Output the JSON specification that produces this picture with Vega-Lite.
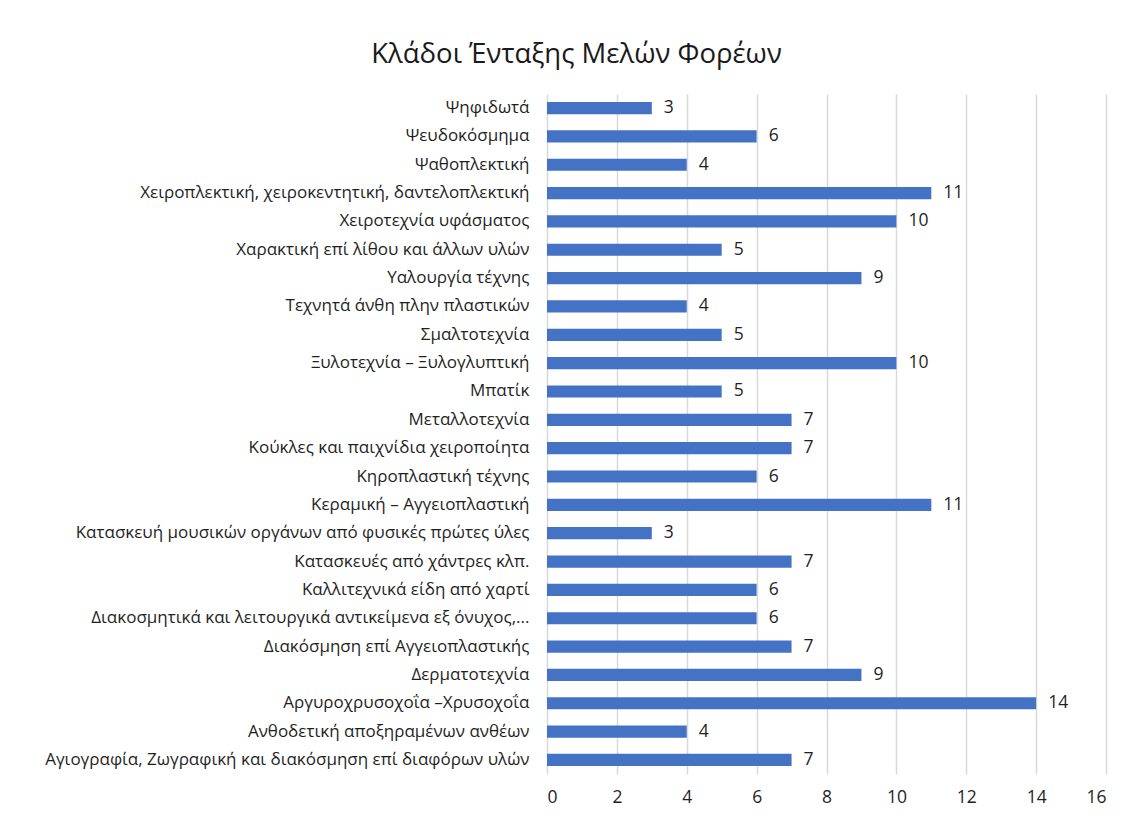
{
  "$schema": "https://vega.github.io/schema/vega-lite/v6.json",
  "autosize": {"type": "none"},
  "width": 559,
  "height": 680,
  "padding": {"left": 547, "top": 94, "right": 22, "bottom": 42},
  "background": "white",
  "title": {
    "text": "Κλάδοι Ένταξης Μελών Φορέων",
    "font": "Open Sans",
    "fontSize": 27.5,
    "fontWeight": "normal",
    "color": "#1a1a1a",
    "anchor": "middle",
    "dx": -250,
    "offset": 26
  },
  "data": {
    "values": [
      {"klados": "Ψηφιδωτά", "n": 3},
      {"klados": "Ψευδοκόσμημα", "n": 6},
      {"klados": "Ψαθοπλεκτική", "n": 4},
      {"klados": "Χειροπλεκτική, χειροκεντητική, δαντελοπλεκτική", "n": 11},
      {"klados": "Χειροτεχνία υφάσματος", "n": 10},
      {"klados": "Χαρακτική επί λίθου και άλλων υλών", "n": 5},
      {"klados": "Υαλουργία τέχνης", "n": 9},
      {"klados": "Τεχνητά άνθη πλην πλαστικών", "n": 4},
      {"klados": "Σμαλτοτεχνία", "n": 5},
      {"klados": "Ξυλοτεχνία – Ξυλογλυπτική", "n": 10},
      {"klados": "Μπατίκ", "n": 5},
      {"klados": "Μεταλλοτεχνία", "n": 7},
      {"klados": "Κούκλες και παιχνίδια χειροποίητα", "n": 7},
      {"klados": "Κηροπλαστική τέχνης", "n": 6},
      {"klados": "Κεραμική – Αγγειοπλαστική", "n": 11},
      {"klados": "Κατασκευή μουσικών οργάνων από φυσικές πρώτες ύλες", "n": 3},
      {"klados": "Κατασκευές από χάντρες κλπ.", "n": 7},
      {"klados": "Καλλιτεχνικά είδη από χαρτί", "n": 6},
      {"klados": "Διακοσμητικά και λειτουργικά αντικείμενα εξ όνυχος,...", "n": 6},
      {"klados": "Διακόσμηση επί Αγγειοπλαστικής", "n": 7},
      {"klados": "Δερματοτεχνία", "n": 9},
      {"klados": "Αργυροχρυσοχοΐα –Χρυσοχοΐα", "n": 14},
      {"klados": "Ανθοδετική αποξηραμένων ανθέων", "n": 4},
      {"klados": "Αγιογραφία, Ζωγραφική και διακόσμηση επί διαφόρων υλών", "n": 7}
    ]
  },
  "encoding": {
    "y": {
      "field": "klados",
      "type": "nominal",
      "sort": null,
      "scale": {"paddingInner": 0.57, "paddingOuter": 0.28},
      "axis": {
        "title": null,
        "ticks": false,
        "domain": false,
        "labelPadding": 18,
        "labelFont": "Open Sans",
        "labelFontSize": 17,
        "labelColor": "#1f1f1f",
        "labelLimit": 600
      }
    },
    "x": {
      "field": "n",
      "type": "quantitative",
      "scale": {"domain": [0, 16], "nice": false},
      "axis": {
        "title": null,
        "values": [0, 2, 4, 6, 8, 10, 12, 14, 16],
        "ticks": false,
        "domain": false,
        "grid": true,
        "gridColor": "#d9d9d9",
        "gridWidth": 1.5,
        "labelPadding": 14,
        "labelFont": "Open Sans",
        "labelFontSize": 17.5,
        "labelColor": "#1f1f1f"
      }
    }
  },
  "layer": [
    {"mark": {"type": "bar", "color": "#4472C4"}},
    {
      "mark": {"type": "text", "align": "left", "baseline": "middle", "dx": 12, "font": "Open Sans", "fontSize": 17.5, "color": "#1f1f1f"},
      "encoding": {"text": {"field": "n", "type": "quantitative"}}
    }
  ],
  "config": {"view": {"stroke": null}}
}
